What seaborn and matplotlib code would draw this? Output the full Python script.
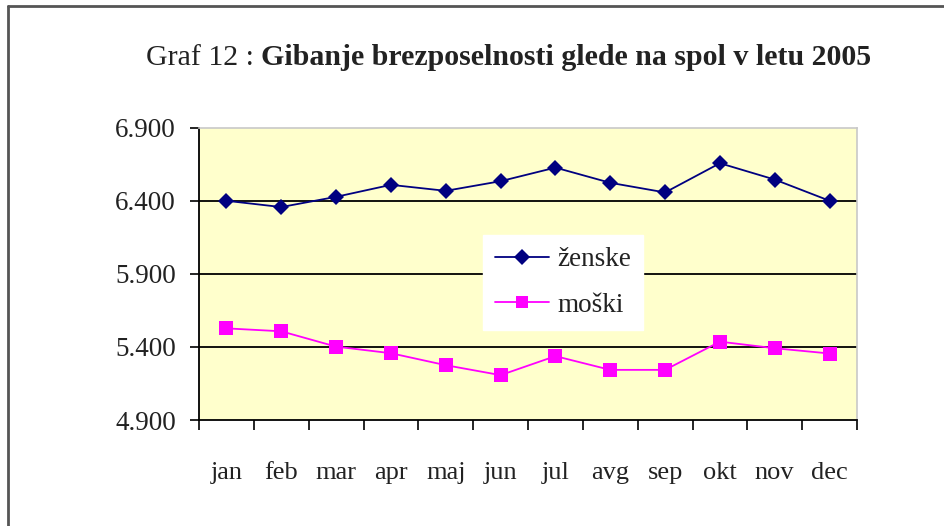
import matplotlib
matplotlib.use("Agg")
import matplotlib.pyplot as plt
from matplotlib.lines import Line2D
from matplotlib.ticker import FuncFormatter, FixedLocator
import seaborn as sns
import pandas as pd

months = ["jan", "feb", "mar", "apr", "maj", "jun", "jul", "avg", "sep", "okt", "nov", "dec"]
zenske = [6400, 6357, 6427, 6509, 6468, 6534, 6627, 6523, 6457, 6657, 6545, 6400]
moski = [5527, 5507, 5402, 5357, 5275, 5207, 5337, 5243, 5243, 5436, 5391, 5355]
series = ["ženske", "moški"]
colors = ["#000080", "#FF00FF"]
yticks = [4900, 5400, 5900, 6400, 6900]
title_regular = "Graf 12 : "
title_bold = "Gibanje brezposelnosti glede na spol v letu 2005"

df = pd.DataFrame({
    "mesec": months * 2,
    "pos": list(range(len(months))) * 2,
    "vrednost": zenske + moski,
    "spol": [series[0]] * len(months) + [series[1]] * len(months),
})

sns.set_theme(style="white")
plt.rcParams["font.family"] = ["Liberation Serif", "DejaVu Serif"]

fig = plt.figure(figsize=(9.44, 5.26), dpi=100)
ax = fig.add_axes([199 / 944, 1 - 420 / 526, (857 - 199) / 944, (420 - 127.7) / 526])
ax.set_facecolor("#FFFFCC")

sns.lineplot(data=df, x="pos", y="vrednost", hue="spol", style="spol",
             hue_order=series, style_order=series,
             palette=dict(zip(series, colors)),
             markers={series[0]: "D", series[1]: "s"}, dashes=False,
             markersize=9, markeredgewidth=0, linewidth=1.3, ax=ax, legend=False)
for ln, ms in zip(ax.get_lines(), [8, 10]):
    ln.set_markersize(ms)

ax.set_xlim(-0.5, len(months) - 0.5)
ax.set_ylim(yticks[0], yticks[-1])
ax.set_xlabel("")
ax.set_ylabel("")

# x: boundary ticks (major) + labels at centers (minor)
ax.xaxis.set_major_locator(FixedLocator([i - 0.5 for i in range(len(months) + 1)]))
ax.xaxis.set_minor_locator(FixedLocator(list(range(len(months)))))
ax.xaxis.set_major_formatter(FuncFormatter(lambda v, p: ""))
ax.set_xticks(list(range(len(months))), months, minor=True)
ax.tick_params(axis="x", which="major", length=7, width=1.2, color="black", direction="out", bottom=True)
ax.tick_params(axis="x", which="minor", length=0, pad=30, labelsize=19, labelcolor="#222222")

ax.set_yticks(yticks)
ax.yaxis.set_major_formatter(FuncFormatter(lambda v, p: f"{v:,.0f}".replace(",", ".")))
ax.tick_params(axis="y", which="major", length=6.5, width=1.2, color="black", direction="out",
               left=True, pad=10, labelsize=19.5, labelcolor="#222222")

ax.grid(False)
for yv in yticks[1:-1]:
    ax.axhline(yv, color="black", linewidth=1.3, zorder=1)

for s in ["left", "bottom"]:
    ax.spines[s].set_color("black")
    ax.spines[s].set_linewidth(1.3)
for s in ["top", "right"]:
    ax.spines[s].set_color("#C8C8C8")
    ax.spines[s].set_linewidth(1.2)

handles = [Line2D([0], [0], color=c, marker=m, markersize=ms, markeredgewidth=0, linewidth=1.3)
           for c, m, ms in zip(colors, ["D", "s"], [8, 9])]
leg = ax.legend(handles, series, loc="upper left", bbox_to_anchor=(0.431, 0.632),
                frameon=True, fontsize=19.5, handlelength=2.0, borderpad=0.45,
                labelspacing=0.75, handletextpad=0.3, fancybox=False, borderaxespad=0)
leg.get_frame().set_facecolor("white")
leg.get_frame().set_edgecolor("white")
leg.get_frame().set_alpha(1)
for t in leg.get_texts():
    t.set_color("#222222")

# figure frame (left and top edges visible)
fig.add_artist(Line2D([8 / 944, 8 / 944], [0, 1 - 6 / 526], color="#555555", linewidth=2, transform=fig.transFigure))
fig.add_artist(Line2D([8 / 944, 1], [1 - 6 / 526, 1 - 6 / 526], color="#555555", linewidth=2, transform=fig.transFigure))

t1 = fig.text(146 / 944, 1 - 58 / 526, title_regular, fontsize=21.5, va="center", ha="left", color="#222222")
fig.canvas.draw()
bb = t1.get_window_extent(renderer=fig.canvas.get_renderer())
fig.text(bb.x1 / fig.bbox.width, 1 - 58 / 526, title_bold, fontsize=21.5, fontweight="bold",
         va="center", ha="left", color="#222222")

fig.savefig("out.png", dpi=100)
